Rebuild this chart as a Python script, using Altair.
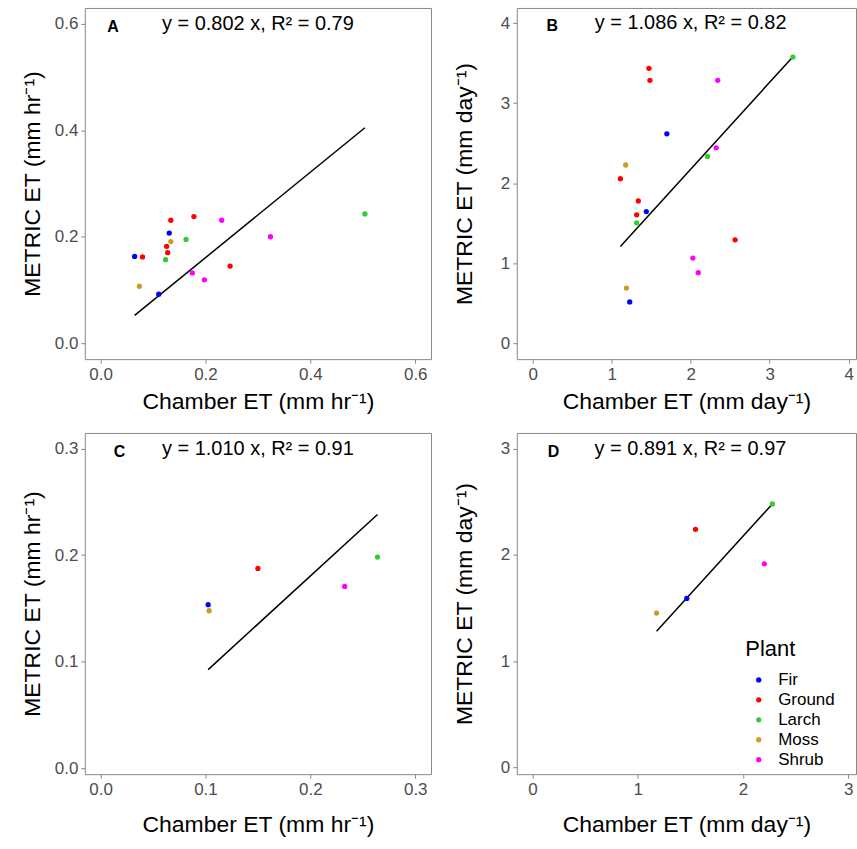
import altair as alt
import pandas as pd
import numpy as np

FONT = "Liberation Sans"
plants = ["Fir", "Ground", "Larch", "Moss", "Shrub"]
plant_colors = ["#0000FF", "#FF0000", "#32CD32", "#CD9B1D", "#FF00FF"]

# Panel A (mm/hr)
a_plant = ["Fir", "Ground", "Moss", "Fir", "Larch", "Ground", "Ground", "Fir", "Moss",
           "Ground", "Larch", "Ground", "Shrub", "Shrub", "Shrub", "Ground", "Shrub", "Larch"]
a_x = [0.065, 0.080, 0.074, 0.111, 0.124, 0.126, 0.128, 0.131, 0.134,
       0.134, 0.163, 0.178, 0.175, 0.198, 0.231, 0.247, 0.324, 0.504]
a_y = [0.163, 0.162, 0.107, 0.092, 0.157, 0.182, 0.170, 0.207, 0.191,
       0.231, 0.195, 0.238, 0.132, 0.119, 0.231, 0.145, 0.200, 0.243]

# Panel B (mm/day)
b_plant = ["Larch", "Ground", "Ground", "Shrub", "Fir", "Shrub", "Larch", "Moss", "Ground",
           "Ground", "Fir", "Ground", "Larch", "Ground", "Shrub", "Shrub", "Moss", "Fir"]
b_x = [3.295, 1.472, 1.485, 2.343, 1.699, 2.323, 2.213, 1.178, 1.111,
       1.338, 1.439, 1.317, 1.317, 2.563, 2.028, 2.096, 1.187, 1.229]
b_y = [3.576, 3.436, 3.286, 3.286, 2.617, 2.442, 2.334, 2.227, 2.056,
       1.778, 1.645, 1.604, 1.504, 1.292, 1.063, 0.881, 0.689, 0.515]

# Panel C (mm/hr)
c_plant = ["Fir", "Moss", "Ground", "Shrub", "Larch"]
c_x = [0.1026, 0.1035, 0.150, 0.2327, 0.264]
c_y = [0.1535, 0.1478, 0.1875, 0.1706, 0.1982]

# Panel D (mm/day)
d_plant = ["Larch", "Ground", "Shrub", "Fir", "Moss"]
d_x = [2.278, 1.548, 2.202, 1.465, 1.178]
d_y = [2.479, 2.241, 1.916, 1.591, 1.453]

panel_letters = ["A", "B", "C", "D"]
letter_x = [0.024, 0.25, 0.018, 0.2]
letter_y = [0.6, 4.0, 0.3, 3.0]
eq_texts = ["y = 0.802 x, R\u00b2 = 0.79", "y = 1.086 x, R\u00b2 = 0.82",
            "y = 1.010 x, R\u00b2 = 0.91", "y = 0.891 x, R\u00b2 = 0.97"]
eq_x = [0.3, 2.0, 0.15, 1.5]
eq_y = [0.6, 4.0, 0.3, 3.0]

x_titles = ["Chamber ET (mm hr\u207b\u00b9)", "Chamber ET (mm day\u207b\u00b9)",
            "Chamber ET (mm hr\u207b\u00b9)", "Chamber ET (mm day\u207b\u00b9)"]
y_titles = ["METRIC ET (mm hr\u207b\u00b9)", "METRIC ET (mm day\u207b\u00b9)",
            "METRIC ET (mm hr\u207b\u00b9)", "METRIC ET (mm day\u207b\u00b9)"]
x_ticks = [[0, 0.2, 0.4, 0.6], [0, 1, 2, 3, 4], [0, 0.1, 0.2, 0.3], [0, 1, 2, 3]]
y_ticks = [[0, 0.2, 0.4, 0.6], [0, 1, 2, 3, 4], [0, 0.1, 0.2, 0.3], [0, 1, 2, 3]]
fmts = [".1f", "d", ".1f", "d"]
x_domains = [[-0.03, 0.63], [-0.2, 4.093], [-0.015, 0.315], [-0.15, 3.073]]
y_domains = [[-0.03, 0.63], [-0.2, 4.19], [-0.0056, 0.3147], [-0.062, 3.147]]
widths = [347, 340, 347, 340]
heights = [352, 352, 342, 342]
ytitle_pad = [10, 24, 10, 24]
xtitle_pad = [8, 8, 16, 16]

color = alt.Color("Plant:N", scale=alt.Scale(domain=plants, range=plant_colors),
                  legend=alt.Legend(title="Plant", orient="none", legendX=662, legendY=633,
                                    titleFontSize=22, titleFontWeight="normal", labelFontSize=17,
                                    symbolType="circle", symbolSize=28, symbolStrokeWidth=0,
                                    symbolOffset=5, rowPadding=2, labelOffset=11, padding=0,
                                    titlePadding=10))


def panel(i, plant, xs, ys):
    df = pd.DataFrame({"x": xs, "y": ys, "Plant": plant})
    xa = np.array(xs)
    ya = np.array(ys)
    slope = float((xa * ya).sum() / (xa * xa).sum())
    line_df = pd.DataFrame({"x": [xa.min(), xa.max()], "y": [slope * xa.min(), slope * xa.max()]})
    xs_ = alt.Scale(domain=x_domains[i], nice=False, zero=False)
    ys_ = alt.Scale(domain=y_domains[i], nice=False, zero=False)
    xax = alt.Axis(title=x_titles[i], values=x_ticks[i], format=fmts[i], titlePadding=xtitle_pad[i])
    yax = alt.Axis(title=y_titles[i], values=y_ticks[i], format=fmts[i], titlePadding=ytitle_pad[i])
    pts = alt.Chart(df).mark_circle(size=28, opacity=1).encode(
        x=alt.X("x:Q", scale=xs_, axis=xax),
        y=alt.Y("y:Q", scale=ys_, axis=yax),
        color=color,
    )
    line = alt.Chart(line_df).mark_line(color="black", strokeWidth=1.5).encode(
        x=alt.X("x:Q", scale=xs_, axis=xax),
        y=alt.Y("y:Q", scale=ys_, axis=yax),
    )
    lab_df = pd.DataFrame({"x": [letter_x[i]], "y": [letter_y[i]], "t": [panel_letters[i]]})
    eq_df = pd.DataFrame({"x": [eq_x[i]], "y": [eq_y[i]], "t": [eq_texts[i]]})
    lab = alt.Chart(lab_df).mark_text(fontSize=16, fontWeight="bold", font=FONT, dy=3,
                                      color="black").encode(
        x=alt.X("x:Q", scale=xs_, axis=xax), y=alt.Y("y:Q", scale=ys_, axis=yax), text="t:N")
    eq = alt.Chart(eq_df).mark_text(fontSize=20, font=FONT, color="black").encode(
        x=alt.X("x:Q", scale=xs_, axis=xax), y=alt.Y("y:Q", scale=ys_, axis=yax), text="t:N")
    return alt.layer(line, pts, lab, eq).properties(width=widths[i], height=heights[i])


A = panel(0, a_plant, a_x, a_y)
B = panel(1, b_plant, b_x, b_y)
C = panel(2, c_plant, c_x, c_y)
D = panel(3, d_plant, d_x, d_y)

top = alt.hconcat(A, B, spacing=21)
bottom = alt.hconcat(C, D, spacing=21)
chart = alt.vconcat(top, bottom, spacing=18).properties(
    padding={"left": 20, "top": 6, "right": 0, "bottom": 0}
).configure(font=FONT).configure_view(
    stroke="#888888", strokeWidth=1
).configure_axis(
    grid=False, domain=False, tickColor="#888888", tickSize=4, labelPadding=3,
    labelColor="#4D4D4D", labelFontSize=17, titleFontSize=23, titleFontWeight="normal",
    titleColor="black", labelFont=FONT, titleFont=FONT
).configure_legend(labelFont=FONT, titleFont=FONT, labelColor="black", titleColor="black")

chart.save("out.html", embed_options={"renderer": "svg", "actions": False})
